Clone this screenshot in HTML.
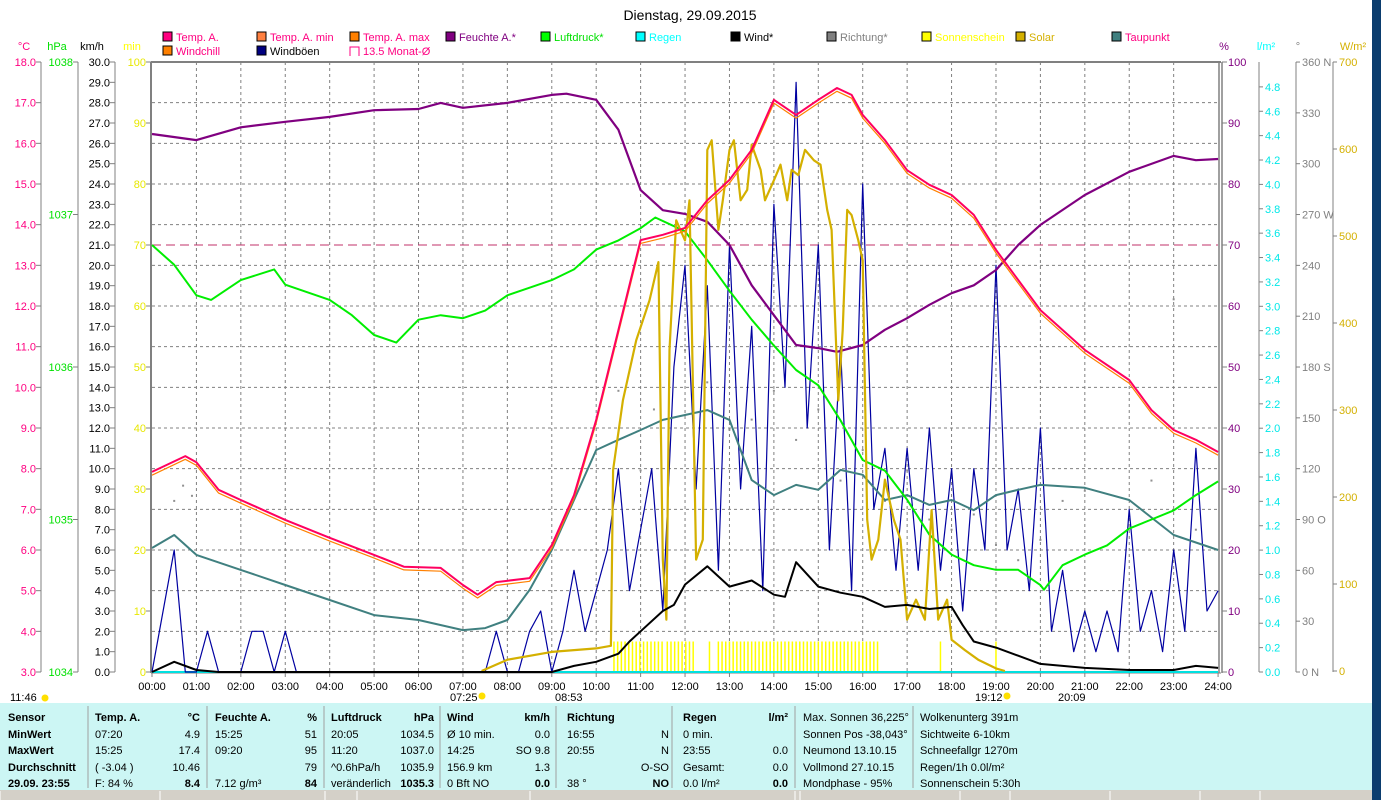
<!DOCTYPE html>
<html><head><meta charset="utf-8"><style>
html,body{margin:0;padding:0;background:#fff;width:1381px;height:800px;overflow:hidden;font-family:"Liberation Sans",sans-serif}
svg{display:block}
</style></head><body>
<svg id="chart" width="1381" height="800" xmlns="http://www.w3.org/2000/svg" font-family="Liberation Sans, sans-serif" font-size="11">
<rect x="0" y="0" width="1381" height="800" fill="#fff"/>
<text x="690" y="20" text-anchor="middle" font-size="14" fill="#000">Dienstag, 29.09.2015</text>
<g id="legend"></g>
<g id="axes"></g>
<g id="plot"></g>
<g id="table"></g>
<rect x="1372" y="0" width="9" height="800" fill="#0b3d6e"/>
</svg>
<script>
// ---- data (time in hours) ----
const tempT=[0,0.75,1,1.5,2,3,4,5,5.67,6.5,7,7.33,7.75,8.5,9,9.5,10,10.5,11,11.5,12,12.5,13,13.5,14,14.5,15,15.42,15.75,16,16.5,17,17.5,18,18.5,19,19.5,20,21,22,22.5,23,23.5,24];
const tempV=[7.92,8.31,8.16,7.48,7.23,6.74,6.30,5.88,5.59,5.56,5.14,4.9,5.21,5.31,6.12,7.35,9.2,11.41,13.62,13.75,13.92,14.6,15.1,15.84,17.07,16.7,17.07,17.36,17.19,16.7,16.08,15.34,14.98,14.73,14.24,13.38,12.64,11.9,10.92,10.18,9.44,8.95,8.71,8.41];
const humT=[0,1,2,3,4,5,6,6.5,7,8,9,9.33,10,10.5,11,11.5,12,12.5,13,13.5,14,14.5,15,15.42,16,16.5,17,17.5,18,18.5,19,19.5,20,21,22,23,23.5,24];
const humV=[88.2,87.2,89.3,90.2,91,92.1,92.3,93.3,92.5,93.3,94.6,94.8,93.8,88.9,79,75.7,75.1,73.8,70,63.4,58.5,53.6,53.1,52.5,53.6,56.1,58,60.2,62.1,63.4,65.9,70,73.3,78.2,82,84.6,83.9,84.1];
const dewT=[0,0.5,1,2,3,4,5,6,7,7.5,8,8.5,9,9.5,10,10.5,11,11.5,12,12.5,13,13.5,14,14.5,15,15.5,16,16.5,17,17.5,18,18.5,19,19.5,20,21,22,23,24];
const dewV=[6.05,6.37,5.88,5.51,5.14,4.77,4.4,4.28,4.03,4.08,4.28,5.02,6.0,7.23,8.46,8.71,8.95,9.2,9.32,9.44,9.2,7.72,7.35,7.6,7.48,7.97,7.85,7.23,7.35,7.11,7.23,6.98,7.35,7.48,7.6,7.53,7.23,6.37,6.0];
const presT=[0,0.5,1,1.33,2,2.75,3,4,4.5,5,5.5,6,6.5,7,7.5,8,8.5,9,9.5,10,10.5,11,11.33,12,12.5,13,13.5,14,14.5,15,15.5,16,16.5,17,17.5,18,18.5,19,19.5,20,20.08,20.5,21,21.5,22,22.5,23,23.5,24];
const presV=[1036.80,1036.67,1036.47,1036.44,1036.57,1036.64,1036.54,1036.44,1036.34,1036.21,1036.16,1036.31,1036.34,1036.32,1036.37,1036.47,1036.52,1036.57,1036.64,1036.77,1036.83,1036.91,1036.98,1036.89,1036.70,1036.50,1036.31,1036.14,1035.98,1035.88,1035.65,1035.39,1035.32,1035.13,1034.90,1034.77,1034.70,1034.67,1034.67,1034.57,1034.54,1034.70,1034.77,1034.83,1034.94,1035.00,1035.06,1035.16,1035.25];
const gustV=[0,3,6,0,0,2,0,0,0,2,2,0,2,0,0,0,0,0,0,0,0,0,0,0,0,0,0,0,0,0,0,2,0,0,2,3,0,2,5,2,4,6,10,4,7,10,3,15,20,9,19,5,21,9,17,4,23,14,29,12,21,6,16,4,24,8,11,5,11,5,12,5,10,3,10,6,20,6,9,4,12,2,5,1,3,1,3,1,8,2,4,1,6,2,11,3,4];
const windT=[0,0.5,1,1.5,9,9.5,10,10.5,10.75,11,11.5,11.75,12,12.5,13,13.5,14,14.25,14.5,15,15.5,16,16.5,17,17.5,18,18.25,18.5,19,19.5,20,21,22,23,23.5,24];
const windV=[0,0.5,0.1,0,0,0.3,0.5,0.9,1.5,2.0,3.0,3.3,4.3,5.2,4.2,4.5,3.8,3.7,5.4,4.2,3.9,3.7,3.2,3.3,3.1,3.2,2.3,1.5,1.2,0.8,0.4,0.2,0.1,0.1,0.3,0.2];
const solT=[7.42,8,9,10,10.33,10.38,10.6,10.9,11.2,11.4,11.5,11.58,11.65,11.8,12,12.1,12.25,12.4,12.5,12.6,12.75,12.85,13,13.1,13.25,13.4,13.5,13.7,13.8,14,14.15,14.3,14.4,14.55,14.7,14.9,15.05,15.2,15.3,15.45,15.55,15.65,15.75,15.9,16,16.1,16.2,16.35,16.5,16.7,16.85,17,17.2,17.4,17.55,17.7,17.9,18,18.3,18.6,19,19.2];
const solV=[0,13,22,26,29,231,311,380,426,470,128,59,369,518,495,541,128,151,599,610,507,541,599,610,541,553,605,576,541,564,582,541,576,570,599,587,582,530,507,311,392,530,524,495,472,174,128,151,220,174,151,59,82,59,185,59,82,36,24,13,3,0];
const dirT=[0.5,0.7,0.9,10.5,11,11.3,12,12.5,13,13.5,14,14.5,15,15.5,16,16.5,17,17.5,18,18.5,19,19.5,20,20.5,21,22,22.5,23,23.5];
const dirV=[101,110,104,166,119,155,190,171,143,149,166,137,155,113,131,101,119,90,84,93,75,66,78,101,107,90,113,220,84];
const sunStart=[10.4,11.6,12.55,12.75,17.75,19.0];
const sunEnd=[11.5,12.25,12.6,16.4,17.8,19.05];
const avgTemp=13.5;
const hourLabels=["00:00","01:00","02:00","03:00","04:00","05:00","06:00","07:00","08:00","09:00","10:00","11:00","12:00","13:00","14:00","15:00","16:00","17:00","18:00","19:00","20:00","21:00","22:00","23:00","24:00"];

// ---- scales ----
const X=h=>152+h*44.42;
const yC=t=>62+(18-t)*40.667;
const yP=p=>62+(1038-p)*152.5;
const yK=v=>672-v*20.333;
const yPct=v=>672-v*6.1;
const yW=w=>671-w*0.87;
const yMin=m=>672-m*6.1;
const yDeg=d=>672-d*1.694;
const NS="http://www.w3.org/2000/svg";
function mk(tag,attrs,parent,txt){const e=document.createElementNS(NS,tag);for(const k in attrs)e.setAttribute(k,attrs[k]);if(txt!==undefined)e.textContent=txt;parent.appendChild(e);return e;}
const axes=document.getElementById('axes'),plot=document.getElementById('plot'),leg=document.getElementById('legend'),tbl=document.getElementById('table');

// legend
const legItems=[[163,37,"#ff0080","Temp. A.","#ff0080"],[257,37,"#ff8040","Temp. A. min","#ff0080"],[350,37,"#ff8000","Temp. A. max","#ff0080"],[446,37,"#800080","Feuchte A.*","#800080"],[541,37,"#00ff00","Luftdruck*","#00e000"],[636,37,"#00ffff","Regen","#00ffff"],[731,37,"#000000","Wind*","#000"],[827,37,"#808080","Richtung*","#808080"],[922,37,"#ffff00","Sonnenschein","#ffff00"],[1016,37,"#d4b000","Solar","#d4b000"],[1112,37,"#408080","Taupunkt","#ff0080"],[163,51,"#ff8000","Windchill","#ff0080"],[257,51,"#000080","Windböen","#000"],[350,51,"none","13.5 Monat-Ø","#ff0080"]];
for(const it of legItems){
  const g=mk('g',{},leg);
  
  
  if(it[2]==="none"){mk('path',{d:`M${it[0]} ${it[1]+5}v-9h9v9`,fill:'none',stroke:'#ff0080'},g);}
  else mk('rect',{x:it[0],y:it[1]-5,width:9,height:9,fill:it[2],stroke:'#000'},g);
  mk('text',{x:it[0]+13,y:it[1]+4,fill:it[4]},g,it[3]);
}
const units=[[24,"°C","#ff0080"],[57,"hPa","#00e000"],[92,"km/h","#000"],[132,"min","#ffff00"],[1224,"%","#800080"],[1266,"l/m²","#00ffff"],[1298,"°","#808080"],[1353,"W/m²","#d4b000"]];
for(const u of units){const t=mk('text',{x:u[0],y:50,fill:u[2],'text-anchor':'middle'},axes,u[1]);}

mk('line',{x1:151,y1:62,x2:1221,y2:62,stroke:'#808080','stroke-width':2},axes);
for(let i=1;i<15;i++){mk('line',{x1:152,y1:62+i*40.667,x2:1218,y2:62+i*40.667,stroke:'#808080','stroke-dasharray':'3,3'},axes);}
for(let h=1;h<24;h++){mk('line',{x1:X(h),y1:62,x2:X(h),y2:672,stroke:'#808080','stroke-dasharray':'3,3'},axes);}
function vaxis(x,color,vals,yf,labelX,fmt){mk('line',{x1:x,y1:62,x2:x,y2:672,stroke:'#808080'},axes);for(const v of vals){const y=yf(v);mk('line',{x1:x-5,y1:y,x2:x,y2:y,stroke:'#808080'},axes);const t=mk('text',{x:labelX,y:y+4,fill:color,'text-anchor':'end'},axes,fmt(v));}}
const cTicks=[];for(let v=18;v>=3;v--)cTicks.push(v);
vaxis(41,"#ff0080",cTicks,yC,36,v=>v.toFixed(1));
vaxis(78,"#00e000",[1038,1037,1036,1035,1034],yP,73,v=>String(v));
const kTicks=[];for(let v=30;v>=0;v--)kTicks.push(v);
vaxis(115,"#000",kTicks,yK,110,v=>v.toFixed(1));
const mTicks=[];for(let v=100;v>=0;v-=10)mTicks.push(v);
for(const v of mTicks){mk('line',{x1:146,y1:yMin(v),x2:151,y2:yMin(v),stroke:'#808080'},axes);mk('text',{x:146,y:yMin(v)+4,fill:'#e8e800','text-anchor':'end'},axes,String(v));}
mk('line',{x1:151,y1:62,x2:151,y2:673,stroke:'#808080','stroke-width':2},axes);
mk('line',{x1:1219,y1:62,x2:1219,y2:673,stroke:'#808080','stroke-width':1.5},axes);
mk('line',{x1:1222,y1:62,x2:1222,y2:673,stroke:'#808080','stroke-width':1.5},axes);
for(const v of mTicks){mk('line',{x1:1222,y1:yPct(v),x2:1227,y2:yPct(v),stroke:'#808080'},axes);mk('text',{x:1228,y:yPct(v)+4,fill:'#800080'},axes,String(v));}
mk('line',{x1:1259,y1:62,x2:1259,y2:672,stroke:'#808080'},axes);
for(let i=0;i<=24;i++){const v=i*0.2,y=672-v*121.9;mk('line',{x1:1259,y1:y,x2:1263,y2:y,stroke:'#808080'},axes);mk('text',{x:1265,y:y+4,fill:'#00e8e8'},axes,v.toFixed(1));}
mk('line',{x1:1296,y1:62,x2:1296,y2:672,stroke:'#808080'},axes);
const degL=["0 N","30","60","90 O","120","150","180 S","210","240","270 W","300","330","360 N"];
for(let i=0;i<=12;i++){const y=672-i*50.83;mk('line',{x1:1296,y1:y,x2:1300,y2:y,stroke:'#808080'},axes);mk('text',{x:1302,y:y+4,fill:'#808080'},axes,degL[i]);}
mk('line',{x1:1333,y1:62,x2:1333,y2:672,stroke:'#808080'},axes);
for(let v=0;v<=700;v+=100){const y=yW(v);mk('line',{x1:1333,y1:y,x2:1337,y2:y,stroke:'#808080'},axes);mk('text',{x:1339,y:y+4,fill:'#d4b000'},axes,String(v));}
mk('line',{x1:151,y1:673,x2:1221,y2:673,stroke:'#808080'},axes);
hourLabels.forEach((l,i)=>{mk('line',{x1:X(i),y1:673,x2:X(i),y2:677,stroke:'#808080'},axes);const t=mk('text',{x:X(i),y:690,'text-anchor':'middle',fill:'#000'},axes,l);});
const marks=[[10,"11:46"],[450,"07:25"],[555,"08:53"],[975,"19:12"],[1058,"20:09"]];
for(const m of marks)mk('text',{x:m[0],y:701,fill:'#000'},axes,m[1]);
mk('circle',{cx:45,cy:698,r:3.5,fill:'#ffe000'},axes);
mk('circle',{cx:482,cy:696,r:3.5,fill:'#ffe000'},axes);
mk('circle',{cx:1007,cy:696,r:3.5,fill:'#ffe000'},axes);

function line(ts,vs,yf,color,w,name){const d=ts.map((t,i)=>(i?'L':'M')+X(t).toFixed(1)+' '+yf(vs[i]).toFixed(1)).join(' ');const p=mk('path',{d:d,fill:'none',stroke:color,'stroke-width':w,'stroke-linejoin':'round'},plot);return p;}
sunStart.forEach((s,i)=>{for(let t=s;t<=sunEnd[i]+1e-6;t+=5/60){const b=mk('line',{x1:X(t),y1:yMin(5),x2:X(t),y2:672,stroke:'#ffff00','stroke-width':1.5},plot);}});
mk('line',{x1:152,y1:672,x2:1218,y2:672,stroke:'#00e0e0','stroke-width':2},plot);
const avg=mk('line',{x1:152,y1:yC(avgTemp),x2:1218,y2:yC(avgTemp),stroke:'#c0306a','stroke-dasharray':'9,5'},plot);

dirT.forEach((t,i)=>{const c=mk('rect',{x:X(t)-1,y:yDeg(dirV[i])-1,width:2,height:2,fill:'#909090'},plot);});
const gustT=gustV.map((v,i)=>i*0.25);
line(gustT,gustV,yK,'#0000a0',1.2,'gust-line');
line(dewT,dewV,yC,'#408080',2,'dewpoint-line');
line(presT,presV,yP,'#00ee00',2,'pressure-line');
line(humT,humV,yPct,'#800080',2.2,'humidity-line');
line(solT,solV,yW,'#d4b000',2.2,'solar-line');
line(tempT,tempV.map(v=>v-0.08),yC,'#ff8000',1.2,'windchill-line');
line(tempT,tempV,yC,'#ff0060',2,'temperature-line');
line(windT,windV,yK,'#000',2,'wind-line');

mk('rect',{x:0,y:703,width:1372,height:87,fill:'#ccf6f4'},tbl);
mk('rect',{x:0,y:790,width:1372,height:10,fill:'#d4d0c8'},tbl);
for(const x of [0,160,325,357,530,795,800,960,1010,1110,1200,1260]){mk('line',{x1:x,y1:791,x2:x,y2:800,stroke:'#fff'},tbl);}
for(const x of [88,207,324,440,556,672,795,913]){mk('line',{x1:x,y1:706,x2:x,y2:788,stroke:'#a0a0a0'},tbl);}
const rowsY=[721,738,754,771,787];
function col(x,arr,bold,anchor){arr.forEach((s,i)=>{if(s==="")return;const b=(typeof bold==='function')?bold(i):bold;mk('text',{x:x,y:rowsY[i],'font-weight':b?'bold':'normal','text-anchor':anchor||'start',fill:'#000'},tbl,s);});}
col(8,["Sensor","MinWert","MaxWert","Durchschnitt","29.09. 23:55"],true);
col(95,["Temp. A.","07:20","15:25","( -3.04 )","F: 84 %"],i=>i==0);
col(200,["°C","4.9","17.4","10.46","8.4"],i=>i==0||i==4,'end');
col(215,["Feuchte A.","15:25","09:20","","7.12 g/m³"],i=>i==0);
col(317,["%","51","95","79","84"],i=>i==0||i==4,'end');
col(331,["Luftdruck","20:05","11:20","^0.6hPa/h","veränderlich"],i=>i==0);
col(434,["hPa","1034.5","1037.0","1035.9","1035.3"],i=>i==0||i==4,'end');
col(447,["Wind","Ø 10 min.","14:25","156.9 km","0 Bft NO"],i=>i==0);
col(550,["km/h","0.0","SO 9.8","1.3","0.0"],i=>i==0||i==4,'end');
col(567,["Richtung","16:55","20:55","","38 °"],i=>i==0);
col(669,["","N","N","O-SO","NO"],i=>i==4,'end');
col(683,["Regen","0 min.","23:55","Gesamt:","0.0 l/m²"],i=>i==0);
col(788,["l/m²","","0.0","0.0","0.0"],i=>i==0||i==4,'end');
col(803,["Max. Sonnen 36,225°","Sonnen Pos -38,043°","Neumond 13.10.15","Vollmond 27.10.15","Mondphase - 95%"],false);
col(920,["Wolkenunterg 391m","Sichtweite 6-10km","Schneefallgr 1270m","Regen/1h 0.0l/m²","Sonnenschein 5:30h"],false);
</script>
</body></html>
